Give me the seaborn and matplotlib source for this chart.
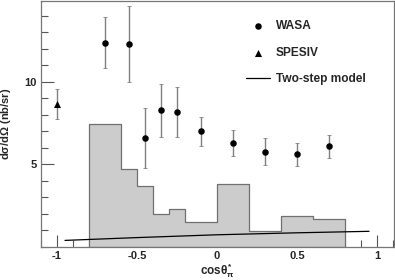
import matplotlib
matplotlib.use("Agg")
import matplotlib.pyplot as plt
import seaborn as sns
import numpy as np
import pandas as pd
from matplotlib.ticker import MultipleLocator, FixedLocator

# histogram (acceptance-like shaded distribution)
hist_edges = [-0.8, -0.6, -0.5, -0.4, -0.3, -0.2, 0.0, 0.2, 0.4, 0.6, 0.8]
hist_heights = [7.45, 4.7, 3.72, 2.0, 2.33, 1.52, 3.8, 0.94, 1.9, 1.67]

# WASA data
wasa_x = [-0.7, -0.55, -0.45, -0.35, -0.25, -0.1, 0.1, 0.3, 0.5, 0.7]
wasa_y = [12.37, 12.29, 6.6, 8.29, 8.19, 7.0, 6.3, 5.78, 5.62, 6.1]
wasa_err = [1.55, 2.3, 1.8, 1.6, 1.5, 0.87, 0.77, 0.8, 0.7, 0.7]

# SPESIV data
spesiv_x = [-1.0]
spesiv_y = [8.65]
spesiv_err = [0.9]

# two-step model curve
model_x = [-0.95, -0.5, 0.0, 0.5, 0.95]
model_y = [0.40, 0.57, 0.74, 0.86, 0.95]

sns.set_style("ticks")
plt.rcParams["font.family"] = ["Liberation Sans", "DejaVu Sans"]
plt.rcParams["font.weight"] = "bold"
plt.rcParams["mathtext.fontset"] = "custom"
plt.rcParams["mathtext.rm"] = "Liberation Sans:bold"
plt.rcParams["mathtext.it"] = "Liberation Sans:bold"
plt.rcParams["mathtext.bf"] = "Liberation Sans:bold"

fig = plt.figure(figsize=(3.95, 2.8), dpi=100)
ax = fig.add_axes([41 / 395, 33 / 280, 353 / 395, 246 / 280])

centers = [(a + b) / 2 for a, b in zip(hist_edges[:-1], hist_edges[1:])]
hdf = pd.DataFrame({"x": centers, "w": hist_heights})
sns.histplot(data=hdf, x="x", weights="w", bins=hist_edges, element="step",
             fill=True, color="#cccccc", edgecolor="#707070", alpha=1,
             linewidth=0.9, ax=ax, zorder=1)

mdf = pd.DataFrame({"x": model_x, "y": model_y})
sns.lineplot(data=mdf, x="x", y="y", color="black", linewidth=0.9, ax=ax,
             label="Two-step model", zorder=3)

ax.errorbar(wasa_x, wasa_y, yerr=wasa_err, fmt="none", ecolor="#808080",
            elinewidth=1.0, capsize=1.2, capthick=0.6, zorder=2)
ax.errorbar(spesiv_x, spesiv_y, yerr=spesiv_err, fmt="none", ecolor="#808080",
            elinewidth=1.0, capsize=1.2, capthick=0.6, zorder=2)

wdf = pd.DataFrame({"x": wasa_x, "y": wasa_y})
sns.scatterplot(data=wdf, x="x", y="y", marker="o", s=22, color="black",
                edgecolor="black", linewidth=0, ax=ax, label="WASA", zorder=4)
sdf = pd.DataFrame({"x": spesiv_x, "y": spesiv_y})
sns.scatterplot(data=sdf, x="x", y="y", marker="^", s=26, color="black",
                edgecolor="black", linewidth=0, ax=ax, label="SPESIV", zorder=4)

ax.set_xlim(-1.1, 1.106)
ax.set_ylim(0, 14.9)

ax.xaxis.set_major_locator(FixedLocator([-1, -0.5, 0, 0.5, 1]))
ax.xaxis.set_minor_locator(MultipleLocator(0.1))
ax.set_xticklabels(["-1", "-0.5", "0", "0.5", "1"])
ax.yaxis.set_major_locator(FixedLocator([5, 10]))
ax.yaxis.set_minor_locator(MultipleLocator(1))
ax.set_yticklabels(["5", "10"])
ax.tick_params(axis="both", which="major", direction="in", length=9,
               width=0.8, color="#555555", labelsize=8, pad=3)
ax.tick_params(axis="both", which="minor", direction="in", length=5,
               width=0.8, color="#555555")
for s in ax.spines.values():
    s.set_color("#777777")
    s.set_linewidth(0.9)

ax.set_xlabel(r"cos$\theta^{*}_{\pi}$", fontsize=8.5, fontweight="bold")
ax.xaxis.set_label_coords(0.5, -0.06)
ax.set_ylabel(r"d$\sigma$/d$\Omega$ (nb/sr)", fontsize=8, fontweight="bold")
ax.yaxis.set_label_coords(-0.08, 0.5)

handles, labels = ax.get_legend_handles_labels()
order = [labels.index(n) for n in ["WASA", "SPESIV", "Two-step model"]]
ax.legend([handles[i] for i in order], [labels[i] for i in order],
          loc="upper left", bbox_to_anchor=(0.55, 0.965), frameon=False,
          handlelength=2.0, labelspacing=1.2, handletextpad=0.5,
          prop={"weight": "bold", "size": 8.6})

fig.savefig("out.png", dpi=100)
